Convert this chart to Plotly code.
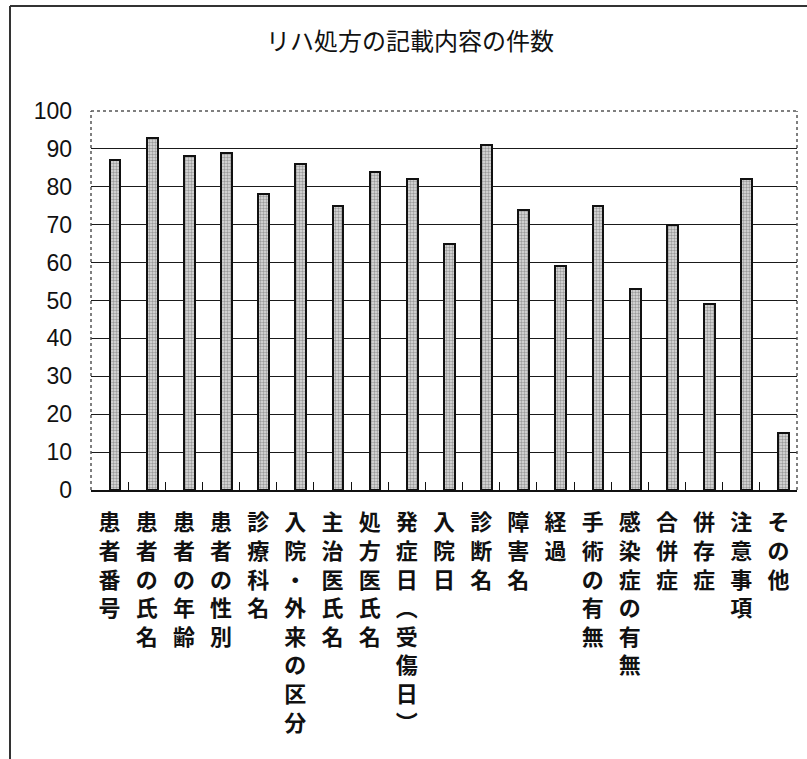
import plotly.graph_objects as go

# 記載項目と件数
categories = [
    "患者番号", "患者の氏名", "患者の年齢", "患者の性別", "診療科名",
    "入院・外来の区分", "主治医氏名", "処方医氏名", "発症日（受傷日）", "入院日",
    "診断名", "障害名", "経過", "手術の有無", "感染症の有無",
    "合併症", "併存症", "注意事項", "その他",
]
counts = [87, 93, 88, 89, 78, 86, 75, 84, 82, 65, 91, 74, 59, 75, 53, 70, 49, 82, 15]
y_ticks = [0, 10, 20, 30, 40, 50, 60, 70, 80, 90, 100]

title_text = "リハ処方の記載内容の件数"

# 縦書き用に括弧を縦組みの字形へ置き換え、1文字ずつ改行する
VERTICAL_FORMS = {"（": "︵", "）": "︶"}


def to_vertical(label):
    return "<br>".join(VERTICAL_FORMS.get(ch, ch) for ch in label)


vertical_labels = [to_vertical(c) for c in categories]

W, H = 807, 759
L, R, T, B = 91, 10, 111, 269

fig = go.Figure()
fig.add_trace(
    go.Bar(
        x=categories,
        y=counts,
        width=0.29,
        offset=0.0,
        marker=dict(
            color="#d0d0d0",
            line=dict(color="#111111", width=2),
            pattern=dict(shape=".", fgcolor="#555555", bgcolor="#e0e0e0",
                         size=3, solidity=0.5),
        ),
        showlegend=False,
        hoverinfo="x+y",
    )
)

fig.update_layout(
    width=W,
    height=H,
    margin=dict(l=L, r=R, t=T, b=B, pad=0),
    paper_bgcolor="white",
    plot_bgcolor="white",
    bargap=0,
    title=dict(
        text=title_text,
        x=410 / W,
        xanchor="center",
        xref="container",
        y=1 - 42 / H,
        yanchor="middle",
        yref="container",
        font=dict(family="Noto Sans CJK JP", size=24, color="#111111"),
    ),
    xaxis=dict(
        type="category",
        tickmode="array",
        tickvals=categories,
        ticktext=vertical_labels,
        tickangle=0,
        tickfont=dict(family="Noto Sans CJK JP", size=22, color="#111111", weight=700),
        ticks="inside",
        tickson="boundaries",
        ticklen=8,
        tickwidth=1,
        tickcolor="#111111",
        ticklabelstandoff=12,
        showline=True,
        linecolor="#111111",
        linewidth=2,
        showgrid=False,
        zeroline=False,
        range=[-0.5, len(categories) - 0.5],
    ),
    yaxis=dict(
        range=[0, 100],
        tickmode="array",
        tickvals=y_ticks,
        ticktext=[str(v) for v in y_ticks],
        tickfont=dict(family="Liberation Sans Narrow, Arial Narrow, Liberation Sans",
                      size=23, color="#111111"),
        ticks="",
        ticklabelstandoff=18,
        showgrid=True,
        gridcolor="#1a1a1a",
        gridwidth=1,
        showline=False,
        zeroline=False,
    ),
)

# プロット領域の点線枠(上・左・右)
dotted = dict(color="#555555", width=1.5, dash="dot")
fig.add_shape(type="line", xref="paper", yref="paper", x0=0, x1=1, y0=1, y1=1, line=dotted)
fig.add_shape(type="line", xref="paper", yref="paper", x0=0, x1=0, y0=0, y1=1, line=dotted)
fig.add_shape(type="line", xref="paper", yref="paper", x0=1, x1=1, y0=0, y1=1, line=dotted)

# グラフ全体の外枠(左辺と上辺)
pw = W - L - R
ph = H - T - B


def px_to_paper_x(px):
    return (px - L) / pw


def px_to_paper_y(py):
    return (H - B - py) / ph


frame = dict(color="#333333", width=2)
fig.add_shape(type="line", xref="paper", yref="paper",
              x0=px_to_paper_x(10), x1=px_to_paper_x(10),
              y0=px_to_paper_y(6), y1=px_to_paper_y(H), line=frame)
fig.add_shape(type="line", xref="paper", yref="paper",
              x0=px_to_paper_x(10), x1=px_to_paper_x(W),
              y0=px_to_paper_y(6), y1=px_to_paper_y(6), line=frame)

fig.write_html("out.html")
